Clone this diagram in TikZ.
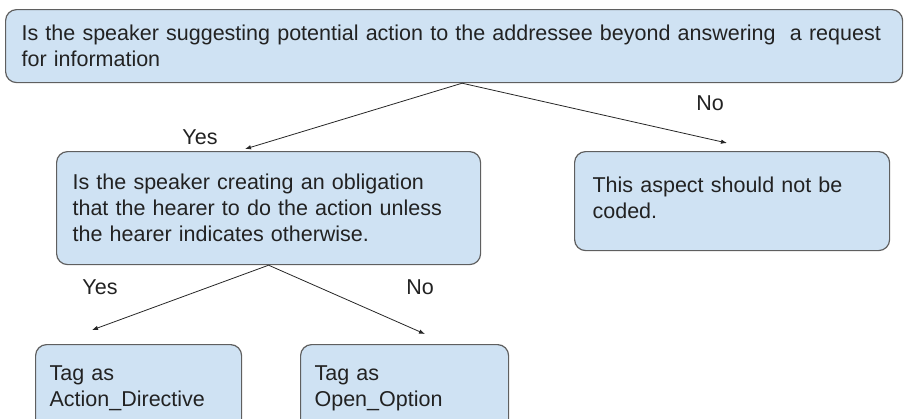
\documentclass[tikz,border=0pt]{standalone}
\usepackage{fontspec}
\setmainfont{Liberation Sans}
\usetikzlibrary{arrows.meta}
\definecolor{boxblue}{HTML}{CFE2F3}
\definecolor{boxline}{HTML}{5F5F5F}
\definecolor{inkgray}{HTML}{222222}

\begin{document}
\begin{tikzpicture}[x=1pt, y=-1pt,
    box/.style={draw=boxline, line width=1.2pt, fill=boxblue, rounded corners=11pt,
        anchor=north west, align=left, inner xsep=16pt, inner ysep=0pt,
        text=inkgray, font=\fontsize{21.5}{26}\selectfont},
    answer/.style={text=inkgray, font=\fontsize{21.5}{26}\selectfont},
    branch/.style={-{Latex[length=6pt,width=4.5pt]}, line width=0.8pt, black!85}]
    \useasboundingbox (0,0) rectangle (904,418);

    % Question boxes
    \node[box, text width=865pt, minimum height=73pt] (ask) at (5,9)
        {Is the speaker suggesting potential action to the addressee beyond answering\ \ a request\\for information};
    \node[box, text width=392pt, minimum height=113pt] (oblig) at (56,151)
        {Is the speaker creating an obligation\\that the hearer to do the action unless\\the hearer indicates otherwise.};
    \node[box, inner xsep=18pt, text width=279pt, minimum height=99pt, text depth=33pt] (skip) at (574,151)
        {This aspect should not be\\coded.};

    % Tag boxes
    \node[box, inner xsep=14pt, text width=178pt, minimum height=88pt] (directive) at (35,344)
        {Tag as\\Action\_Directive};
    \node[box, inner xsep=14pt, text width=180pt, minimum height=88pt] (option) at (300,344)
        {Tag as\\Open\_Option};

    % Arrow ends
    \coordinate (askyes) at (245,149);
    \coordinate (askno) at (727,143);
    \coordinate (obligyes) at (92,330);
    \coordinate (obligno) at (425,334);

    % Branches
    \draw[branch] ([xshift=8pt]ask.south) -- (askyes);
    \draw[branch] ([xshift=8pt]ask.south) -- (askno);
    \draw[branch] (oblig.south) -- (obligyes);
    \draw[branch] (oblig.south) -- (obligno);

    % Answers
    \node[answer] (yes1) at (200,137) {Yes};
    \node[answer] (no1) at (710,103) {No};
    \node[answer] (yes2) at (100,287) {Yes};
    \node[answer] (no2) at (420,287) {No};
\end{tikzpicture}
\end{document}
